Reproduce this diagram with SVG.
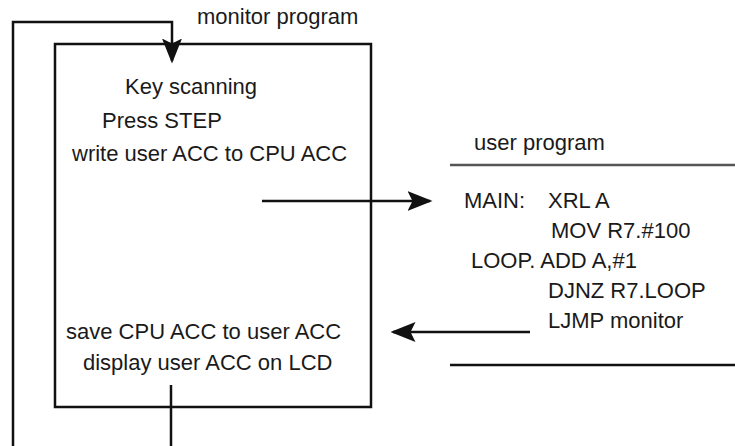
<svg xmlns="http://www.w3.org/2000/svg" width="735" height="446" viewBox="0 0 735 446">
<defs>
<style>
text{font-family:"Liberation Sans",Arial,sans-serif;font-size:22px;fill:#1a1a1a}
.ln{stroke:#111;stroke-width:2.5;fill:none}
</style>
<marker id="ah" markerWidth="10" markerHeight="8" refX="9" refY="4" orient="auto" markerUnits="strokeWidth">
<path d="M0,0 L10,4 L0,8 L2,4 Z" fill="#111"/>
</marker>
</defs>
<rect width="735" height="446" fill="#fff"/>
<g id="monitor">
<rect x="55" y="44" width="316" height="363" class="ln"/>
<text x="197" y="24">monitor program</text>
<text x="125" y="94">Key scanning</text>
<text x="102" y="128">Press STEP</text>
<text x="72" y="161">write user ACC to CPU ACC</text>
<text x="66" y="339">save CPU ACC to user ACC</text>
<text x="83" y="370">display user ACC on LCD</text>
</g>
<g id="user">
<line x1="450" y1="165" x2="735" y2="165" stroke="#555" stroke-width="2.5"/>
<line x1="450" y1="365" x2="735" y2="365" class="ln"/>
<text x="474" y="150">user program</text>
<text x="464" y="208">MAIN:</text>
<text x="548" y="208">XRL A</text>
<text x="551" y="238">MOV R7.#100</text>
<text x="471" y="268">LOOP. ADD A,#1</text>
<text x="548" y="298">DJNZ R7.LOOP</text>
<text x="548" y="328">LJMP monitor</text>
</g>
<g id="connectors">
<polyline points="13,446 13,22 172,22 172,61" class="ln" marker-end="url(#ah)"/>
<line x1="262" y1="201" x2="430" y2="201" class="ln" marker-end="url(#ah)"/>
<line x1="530" y1="332" x2="393" y2="332" class="ln" marker-end="url(#ah)"/>
<line x1="171" y1="385" x2="171" y2="446" class="ln"/>
</g>
</svg>
